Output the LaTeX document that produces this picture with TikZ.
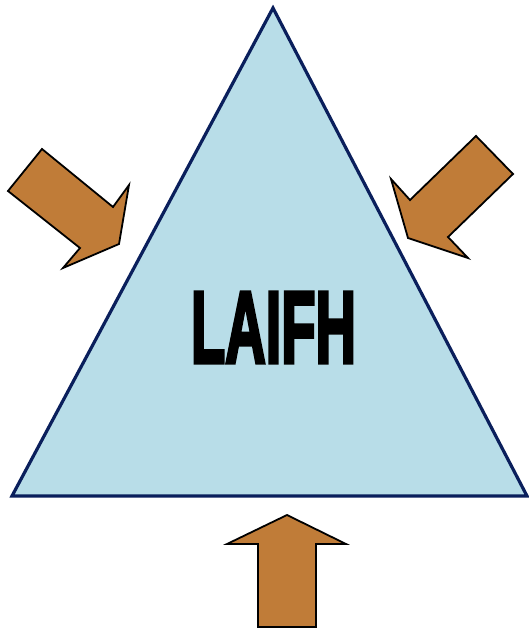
\documentclass[tikz,border=0pt]{standalone}
\usepackage{fontspec}
\newfontfamily\laifhfont[FakeBold=4]{Liberation Sans Bold}
\definecolor{triblue}{HTML}{B8DDE8}
\definecolor{trinavy}{HTML}{0A1F5C}
\definecolor{arrbrown}{HTML}{C07C38}
\begin{document}
\begin{tikzpicture}[x=1pt,y=-1pt,
  arrowshape/.style={fill=arrbrown,draw=black,line width=1.8pt,line join=miter},
  tri/.style={fill=triblue,draw=trinavy,line width=3.2pt,line join=miter}]
\useasboundingbox (0,0) rectangle (529,629);
\coordinate (apex) at (273,8);
\coordinate (bl) at (12,496);
\coordinate (br) at (527,496);
\draw[tri] (apex) -- (br) -- (bl) -- cycle;
\node[inner sep=0pt,anchor=center] (label) at (273.5,327.5)
  {\scalebox{0.55}[1]{\laifhfont\fontsize{102}{102}\selectfont LAIFH}};
% left arrow
\draw[arrowshape] (42,149) -- (113,207) -- (129,185) -- (119,244) -- (63,268) -- (80,248) -- (8,191) -- cycle;
% right arrow
\draw[arrowshape] (476,136) -- (513,174) -- (448,237) -- (468,258) -- (408,238) -- (391,179) -- (410,200) -- cycle;
% bottom arrow
\draw[arrowshape] (287,515) -- (346,544) -- (316,544) -- (316,627) -- (258,627) -- (258,544) -- (227,544) -- cycle;
\end{tikzpicture}
\end{document}
